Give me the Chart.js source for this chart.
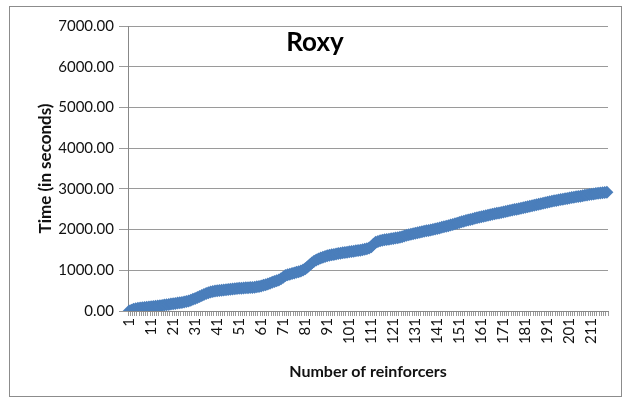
<!DOCTYPE html>
<html>
<head>
<meta charset="utf-8">
<script src="https://cdn.jsdelivr.net/npm/chart.js@4"></script>
<style>
html,body{margin:0;padding:0;background:#fff;}
#wrap{width:630px;height:403px;position:relative;}
</style>
</head>
<body>
<div id="wrap"><canvas id="c" width="630" height="403"></canvas></div>
<script>
const chartTitle = "Roxy";
const xTitle = "Number of reinforcers";
const yTitle = "Time (in seconds)";
const yTicks = [0, 1000, 2000, 3000, 4000, 5000, 6000, 7000];

const times = [
  0, 20, 40, 55, 65, 72, 80, 86, 92, 98,
  104, 110, 116, 122, 130, 138, 146, 154, 162, 170,
  178, 186, 194, 202, 210, 220, 232, 248, 266, 286,
  306, 330, 356, 382, 408, 430, 450, 466, 480, 490,
  498, 504, 510, 516, 522, 528, 534, 540, 546, 552,
  556, 560, 564, 568, 572, 576, 580, 586, 594, 604,
  616, 630, 646, 664, 684, 704, 722, 740, 762, 790,
  830, 870, 890, 905, 920, 935, 950, 965, 985, 1010,
  1040, 1080, 1130, 1180, 1220, 1250, 1275, 1300, 1320, 1340,
  1355, 1368, 1380, 1390, 1400, 1410, 1420, 1430, 1438, 1446,
  1454, 1462, 1470, 1478, 1486, 1494, 1504, 1516, 1530, 1550,
  1580, 1640, 1690, 1710, 1725, 1738, 1748, 1756, 1764, 1772,
  1780, 1790, 1800, 1812, 1826, 1842, 1858, 1872, 1886, 1898,
  1910, 1922, 1934, 1946, 1958, 1968, 1978, 1990, 2000, 2012,
  2026, 2040, 2054, 2068, 2082, 2096, 2110, 2126, 2142, 2158,
  2174, 2190, 2206, 2220, 2234, 2248, 2262, 2276, 2290, 2302,
  2314, 2326, 2338, 2350, 2362, 2374, 2386, 2398, 2408, 2418,
  2430, 2442, 2454, 2466, 2478, 2490, 2502, 2514, 2526, 2538,
  2550, 2562, 2574, 2586, 2598, 2610, 2622, 2634, 2646, 2658,
  2670, 2682, 2694, 2706, 2716, 2726, 2736, 2746, 2756, 2766,
  2776, 2786, 2796, 2804, 2812, 2820, 2830, 2840, 2850, 2860,
  2868, 2876, 2884, 2892, 2900, 2906, 2912, 2918
];
const reinforcers = times.map((_, i) => String(i + 1));

const FONT = "Lato, 'Open Sans', sans-serif";

const framePlugin = {
  id: 'frame',
  afterDraw(chart) {
    const ctx = chart.ctx;
    ctx.save();
    ctx.strokeStyle = '#8c8c8c';
    ctx.lineWidth = 1;
    ctx.strokeRect(9.5, 6.5, 612, 390);
    ctx.fillStyle = '#000';
    ctx.font = "bold 26px " + FONT;
    ctx.textAlign = 'center';
    ctx.textBaseline = 'middle';
    ctx.fillText(chartTitle, 315, 43);
    ctx.restore();
  }
};

new Chart(document.getElementById('c'), {
  type: 'line',
  data: {
    labels: reinforcers,
    datasets: [{
      data: times,
      borderColor: '#4A7EBB',
      backgroundColor: '#4A7EBB',
      borderWidth: 2,
      pointStyle: 'rectRot',
      pointRadius: 6.5,
      pointBorderWidth: 0,
      pointBackgroundColor: '#4A7EBB',
      tension: 0
    }]
  },
  options: {
    responsive: false,
    animation: false,
    layout: { padding: { left: 35, right: 22, top: 26, bottom: 22 } },
    plugins: { legend: { display: false }, tooltip: { enabled: false } },
    scales: {
      x: {
        offset: true,
        afterFit(s) { s.height = 70; },
        grid: { offset: true, drawOnChartArea: false, drawTicks: true, tickLength: 5, color: '#999' },
        border: { color: '#888' },
        ticks: {
          autoSkip: false, maxRotation: 90, minRotation: 90, padding: 2,
          color: '#111', font: { family: FONT, size: 15 },
          callback(v, i) { return i % 10 === 0 ? this.getLabelForValue(v) : ''; }
        },
        title: { display: true, text: xTitle, color: '#111', font: { family: FONT, size: 16, weight: 'bold' }, padding: { top: 4, bottom: 0 } }
      },
      y: {
        min: 0, max: 7000,
        afterFit(s) { s.width = 93; },
        afterBuildTicks(s) { s.ticks = yTicks.map(v => ({ value: v })); },
        grid: { color: '#9a9a9a', tickLength: 9 },
        border: { color: '#888' },
        ticks: { padding: 5, color: '#111', font: { family: FONT, size: 15 }, callback: v => Number(v).toFixed(2) },
        title: { display: true, text: yTitle, color: '#111', font: { family: FONT, size: 17, weight: 'bold' }, padding: { top: 0, bottom: 0 } }
      }
    }
  },
  plugins: [framePlugin]
});
</script>
</body>
</html>
